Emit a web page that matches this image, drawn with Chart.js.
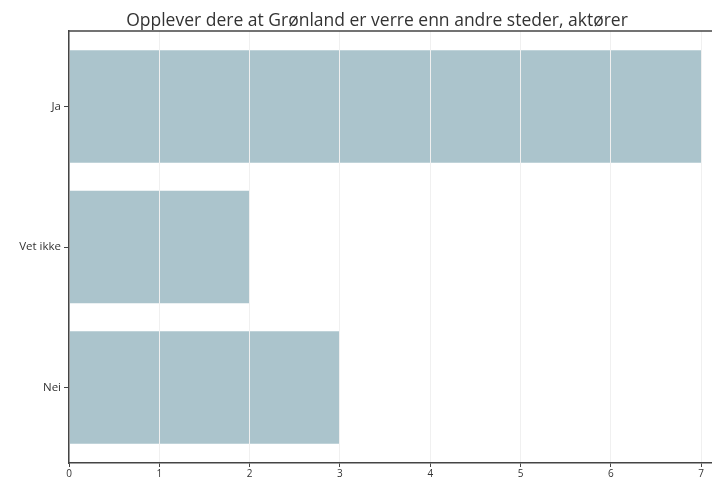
<!DOCTYPE html>
<html>
<head>
<meta charset="utf-8">
<script src="https://cdn.jsdelivr.net/npm/chart.js@4/dist/chart.umd.min.js"></script>
<style>
  html, body { margin: 0; padding: 0; background: #fff; overflow: hidden; }
  #wrap { width: 712px; height: 478px; }
  canvas { display: block; }
</style>
</head>
<body>
<div id="wrap"><canvas id="c" width="712" height="478"></canvas></div>
<script>
const title = 'Opplever dere at Grønland er verre enn andre steder, aktører';
const categories = ['Ja', 'Vet ikke', 'Nei'];
const values = [7, 2, 3];
const xTickValues = [0, 1, 2, 3, 4, 5, 6, 7];

const FONT = "'Open Sans', 'DejaVu Sans', sans-serif";
const AXIS = '#444444';

const framePlugin = {
  id: 'frame',
  afterDraw(chart) {
    const ctx = chart.ctx, a = chart.chartArea;
    ctx.save();
    ctx.strokeStyle = AXIS;
    ctx.lineWidth = 1.5;
    ctx.beginPath();
    ctx.moveTo(a.left, a.top);
    ctx.lineTo(a.right, a.top);
    ctx.stroke();
    ctx.fillStyle = '#333';
    ctx.font = '17.5px ' + FONT;
    ctx.textAlign = 'center';
    ctx.textBaseline = 'alphabetic';
    ctx.fillText(title, 377, 26);
    ctx.restore();
  }
};

new Chart(document.getElementById('c'), {
  type: 'bar',
  data: {
    datasets: [{
      data: categories.map((c, i) => ({ x: values[i], y: i })),
      backgroundColor: '#abc4cc',
      borderWidth: 0,
      categoryPercentage: 0.8,
      barPercentage: 1.0
    }]
  },
  options: {
    indexAxis: 'y',
    responsive: false,
    animation: false,
    layout: { padding: { top: 31, left: 0, right: 0, bottom: 0 } },
    plugins: { legend: { display: false }, title: { display: false }, tooltip: { enabled: false } },
    scales: {
      x: {
        type: 'linear',
        min: 0,
        max: 7.12,
        offset: false,
        afterBuildTicks: (s) => { s.ticks = xTickValues.map(v => ({ value: v })); },
        afterFit: (s) => { s.height = 15; },
        grid: { color: '#f0f0f0', lineWidth: 1, z: 1, tickLength: 4, tickColor: AXIS, tickWidth: 1 },
        border: { color: AXIS, width: 1.5, z: 2 },
        ticks: { font: { family: FONT, size: 10 }, color: '#333', padding: 1, maxRotation: 0, autoSkip: false, z: 2 }
      },
      y: {
        type: 'linear',
        reverse: true,
        min: -0.537,
        max: 2.537,
        offset: false,
        afterBuildTicks: (s) => { s.ticks = categories.map((c, i) => ({ value: i })); },
        afterFit: (s) => { s.width = 69; },
        grid: { offset: false, drawOnChartArea: false, tickLength: 5, tickColor: AXIS, tickWidth: 1, z: 2 },
        border: { color: AXIS, width: 1.5, z: 3 },
        ticks: {
          font: { family: FONT, size: 11.5 }, color: '#333', padding: 3, autoSkip: false, z: 3,
          callback: (v) => categories[v]
        }
      }
    }
  },
  plugins: [framePlugin]
});
</script>
</body>
</html>
